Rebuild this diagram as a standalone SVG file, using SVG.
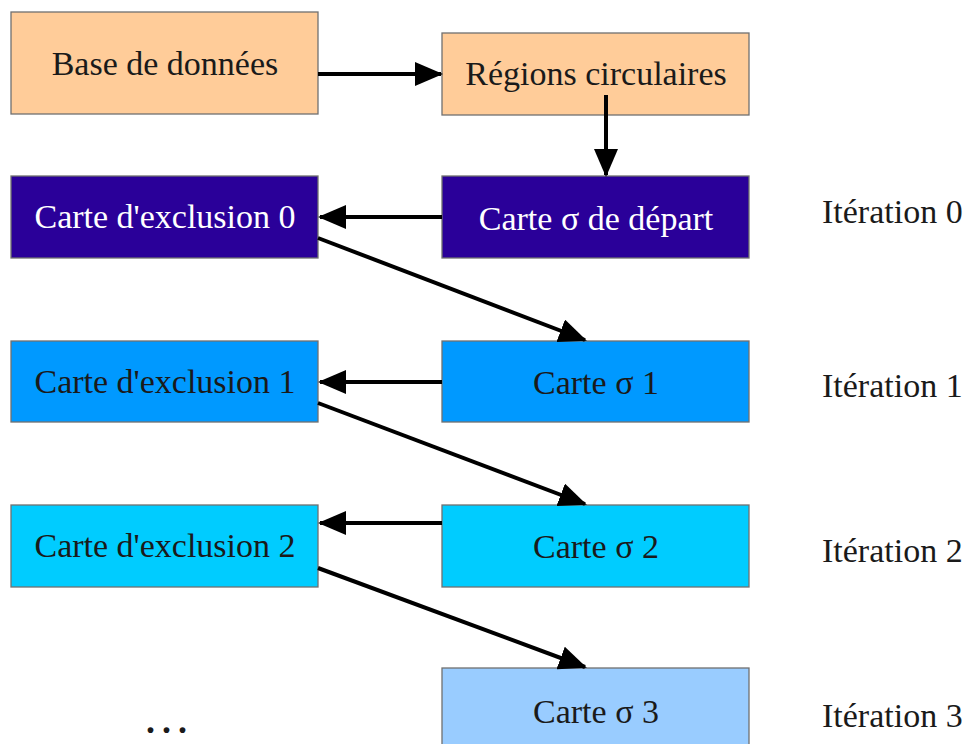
<svg xmlns="http://www.w3.org/2000/svg" width="967" height="744" viewBox="0 0 967 744">
<style>
.box{stroke:#707070;stroke-width:1.3}
.t{font-family:"Liberation Serif","Times New Roman",serif;font-size:34px;fill:#1a1a1a;text-anchor:middle}
.w{fill:#ffffff}
.lab{font-family:"Liberation Serif","Times New Roman",serif;font-size:34px;fill:#1a1a1a}
.c{stroke:#000;stroke-width:4;fill:none;marker-end:url(#ah)}
</style>
<defs>
<marker id="ah" markerWidth="7" markerHeight="6" refX="6.5" refY="3" orient="auto" markerUnits="strokeWidth">
<path d="M0,0 L7,3 L0,6 Z" fill="#000"/>
</marker>
</defs>
<rect width="967" height="744" fill="#fff"/>
<g id="base"><rect class="box" x="11" y="12" width="307" height="102" fill="#ffcc99"/><text class="t" x="165" y="75">Base de données</text></g>
<g id="regions"><rect class="box" x="442" y="33" width="307" height="82" fill="#ffcc99"/><text class="t" x="596" y="85">Régions circulaires</text></g>
<g id="sigma0"><rect class="box" x="442" y="176" width="307" height="82" fill="#2a0099"/><text class="t w" x="596" y="230">Carte σ de départ</text></g>
<g id="excl0"><rect class="box" x="11" y="176" width="307" height="82" fill="#2a0099"/><text class="t w" x="165" y="228">Carte d'exclusion 0</text></g>
<g id="sigma1"><rect class="box" x="442" y="341" width="307" height="81" fill="#0099ff"/><text class="t" x="596" y="394">Carte σ 1</text></g>
<g id="excl1"><rect class="box" x="11" y="341" width="307" height="81" fill="#0099ff"/><text class="t" x="165" y="393">Carte d'exclusion 1</text></g>
<g id="sigma2"><rect class="box" x="442" y="505" width="307" height="82" fill="#00ccff"/><text class="t" x="596" y="558">Carte σ 2</text></g>
<g id="excl2"><rect class="box" x="11" y="505" width="307" height="82" fill="#00ccff"/><text class="t" x="165" y="557">Carte d'exclusion 2</text></g>
<g id="sigma3"><rect class="box" x="442" y="668" width="307" height="90" fill="#99ccff"/><text class="t" x="596" y="723">Carte σ 3</text></g>
<g id="dots"><text x="146" y="733" style="font-family:'Liberation Serif',serif;font-weight:bold;font-size:36px;letter-spacing:7px;fill:#1a1a1a">...</text></g>
<g id="labels">
<text class="lab" x="822" y="223">Itération 0</text>
<text class="lab" x="822" y="397">Itération 1</text>
<text class="lab" x="822" y="562">Itération 2</text>
<text class="lab" x="822" y="727">Itération 3</text>
</g>
<g id="connectors">
<line class="c" x1="318" y1="74" x2="441" y2="74"/>
<line class="c" x1="606" y1="95" x2="606" y2="175"/>
<line class="c" x1="442" y1="217" x2="320" y2="217"/>
<line class="c" x1="318" y1="238" x2="585" y2="340"/>
<line class="c" x1="442" y1="382" x2="320" y2="382"/>
<line class="c" x1="318" y1="403" x2="585" y2="504"/>
<line class="c" x1="442" y1="523" x2="320" y2="523"/>
<line class="c" x1="318" y1="568" x2="585" y2="667"/>
</g>
</svg>
